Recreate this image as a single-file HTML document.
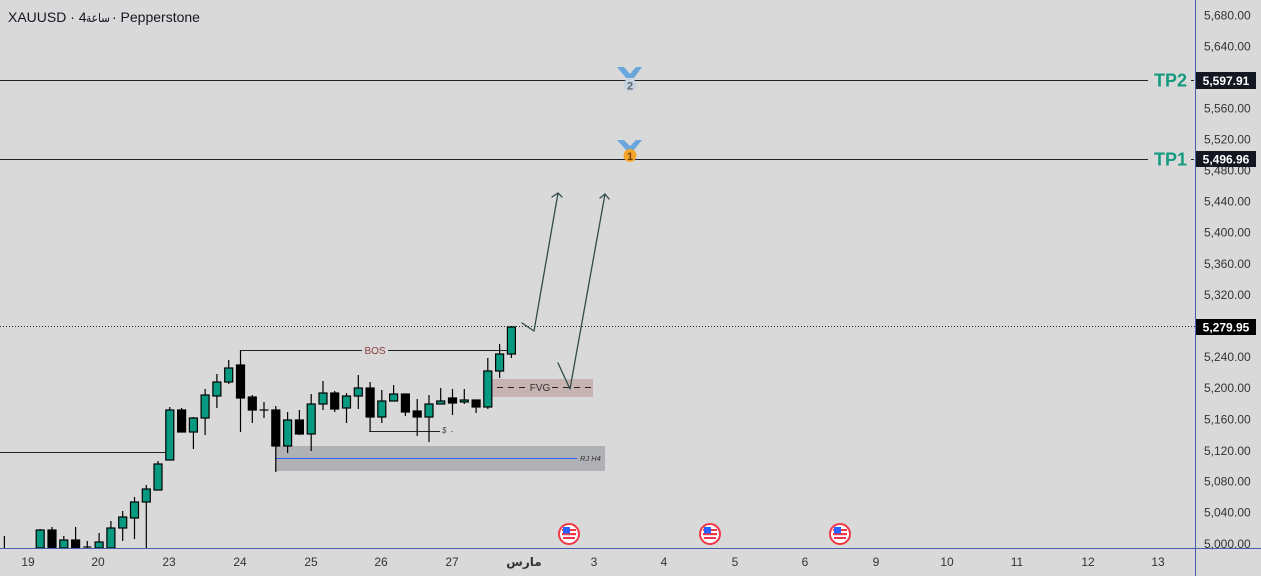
<!DOCTYPE html>
<html><head><meta charset="utf-8"><style>
html,body{margin:0;padding:0;background:#d9d9d9;}
svg{display:block;font-family:"Liberation Sans","Noto Sans CJK SC",sans-serif;}
</style></head><body>
<svg width="1261" height="576" viewBox="0 0 1261 576" xmlns="http://www.w3.org/2000/svg">
<rect x="0" y="0" width="1261" height="576" fill="#d9d9d9"/>
<text x="8" y="22" font-size="14" fill="#131722">XAUUSD · 4</text>
<text x="86" y="22" font-size="12" fill="#131722" textLength="24" lengthAdjust="spacingAndGlyphs" font-family="DejaVu Sans, sans-serif">ساعة</text>
<text x="112" y="22" font-size="14" fill="#131722">· Pepperstone</text>
<!-- TP lines -->
<line x1="0" y1="80.5" x2="1148" y2="80.5" stroke="#1e222d" stroke-width="1"/>
<line x1="0" y1="159.5" x2="1148" y2="159.5" stroke="#1e222d" stroke-width="1"/>
<text x="1154" y="86.5" font-size="18" font-weight="bold" fill="#159a80">TP2</text>
<text x="1154" y="165.5" font-size="18" font-weight="bold" fill="#159a80">TP1</text>
<line x1="1191" y1="80.5" x2="1194" y2="80.5" stroke="#1e222d"/>
<line x1="1191" y1="159.5" x2="1194" y2="159.5" stroke="#1e222d"/>
<!-- medals -->
<g>
<path d="M617 67 L624 67 L630 74 L636 67 L642 67 L634 78 L626 78 Z" fill="#6aa6dc"/>
<circle cx="630" cy="85" r="6.5" fill="#c5d1dc"/>
<text x="630" y="89.5" font-size="11" font-weight="bold" fill="#5a6878" text-anchor="middle">2</text>
<path d="M617 140 L624 140 L630 146 L636 140 L642 140 L634 150 L626 150 Z" fill="#6aa6dc"/>
<circle cx="630" cy="155.5" r="6.5" fill="#f5a52a"/>
<text x="630" y="160" font-size="11" font-weight="bold" fill="#7a4300" text-anchor="middle">1</text>
</g>
<!-- current price dotted line -->
<line x1="0" y1="326.5" x2="1195" y2="326.5" stroke="#1e222d" stroke-width="1" stroke-dasharray="1 2"/>
<!-- left horizontal -->
<line x1="0" y1="452.5" x2="166" y2="452.5" stroke="#1e222d" stroke-width="1"/>
<!-- gray zone -->
<rect x="275" y="446" width="330" height="25" fill="#b0b1b5"/>
<line x1="275" y1="458.5" x2="577" y2="458.5" stroke="#2962ff" stroke-width="1"/>
<text x="580" y="461" font-size="7.5" font-style="italic" fill="#333">RJ H4</text>
<!-- FVG -->
<rect x="492" y="379" width="101" height="18" fill="#c8b3b3"/>
<line x1="497" y1="387.5" x2="528" y2="387.5" stroke="#222" stroke-dasharray="6 5"/>
<line x1="552" y1="387.5" x2="593" y2="387.5" stroke="#222" stroke-dasharray="6 5"/>
<text x="540" y="391" font-size="10" fill="#333" text-anchor="middle">FVG</text>
<!-- BOS -->
<line x1="240" y1="350.5" x2="362" y2="350.5" stroke="#1e222d"/>
<line x1="388" y1="350.5" x2="507" y2="350.5" stroke="#1e222d"/>
<text x="375" y="354" font-size="10" fill="#8c3a3f" text-anchor="middle">BOS</text>
<!-- $ sweep -->
<line x1="369" y1="431.5" x2="440" y2="431.5" stroke="#1e222d"/>
<text x="442" y="433" font-size="8" font-style="italic" fill="#444">$</text>
<circle cx="452" cy="431.5" r="0.6" fill="#555"/>
<!-- candles -->
<g stroke="#000" stroke-width="1.2">
<line x1="4.4" y1="536" x2="4.4" y2="548"/>
<line x1="40.2" y1="529" x2="40.2" y2="548"/><rect x="36.2" y="530" width="8" height="18" fill="#089981"/>
<line x1="52" y1="527" x2="52" y2="548"/><rect x="48" y="530" width="8" height="18" fill="#000"/>
<line x1="63.8" y1="536" x2="63.8" y2="548"/><rect x="59.8" y="540" width="8" height="8" fill="#089981"/>
<line x1="75.6" y1="527" x2="75.6" y2="548"/><rect x="71.6" y="540" width="8" height="8" fill="#000"/>
<line x1="87.3" y1="541" x2="87.3" y2="548"/><line x1="83.3" y1="547" x2="91.3" y2="547"/>
<line x1="99.1" y1="533" x2="99.1" y2="548"/><rect x="95.1" y="542" width="8" height="6" fill="#089981"/>
<line x1="110.9" y1="521" x2="110.9" y2="548"/><rect x="106.9" y="528" width="8" height="20" fill="#089981"/>
<line x1="122.7" y1="511" x2="122.7" y2="541"/><rect x="118.7" y="517" width="8" height="11" fill="#089981"/>
<line x1="134.5" y1="497" x2="134.5" y2="539"/><rect x="130.5" y="502" width="8" height="16" fill="#089981"/>
<line x1="146.3" y1="485" x2="146.3" y2="548"/><rect x="142.3" y="489" width="8" height="13" fill="#089981"/>
<line x1="158" y1="461" x2="158" y2="490"/><rect x="154" y="464" width="8" height="26" fill="#089981"/>
<line x1="169.8" y1="407" x2="169.8" y2="460"/><rect x="165.8" y="410" width="8" height="50" fill="#089981"/>
<line x1="181.6" y1="408" x2="181.6" y2="432"/><rect x="177.6" y="410" width="8" height="22" fill="#000"/>
<line x1="193.4" y1="417" x2="193.4" y2="449"/><rect x="189.4" y="418" width="8" height="14" fill="#089981"/>
<line x1="205.1" y1="389" x2="205.1" y2="435"/><rect x="201.1" y="395" width="8" height="23" fill="#089981"/>
<line x1="216.9" y1="374" x2="216.9" y2="408"/><rect x="212.9" y="382" width="8" height="14" fill="#089981"/>
<line x1="228.7" y1="360" x2="228.7" y2="384"/><rect x="224.7" y="368" width="8" height="14" fill="#089981"/>
<line x1="240.5" y1="350" x2="240.5" y2="432"/><rect x="236.5" y="365" width="8" height="33" fill="#000"/>
<line x1="252.3" y1="395" x2="252.3" y2="423"/><rect x="248.3" y="397" width="8" height="13" fill="#000"/>
<line x1="264" y1="402" x2="264" y2="418"/><line x1="259.5" y1="410" x2="268.5" y2="410"/>
<line x1="275.8" y1="406" x2="275.8" y2="472"/><rect x="271.8" y="410" width="8" height="36" fill="#000"/>
<line x1="287.6" y1="412" x2="287.6" y2="453"/><rect x="283.6" y="420" width="8" height="26" fill="#089981"/>
<line x1="299.4" y1="410" x2="299.4" y2="435"/><rect x="295.4" y="420" width="8" height="14" fill="#000"/>
<line x1="311.2" y1="394" x2="311.2" y2="451"/><rect x="307.2" y="404" width="8" height="30" fill="#089981"/>
<line x1="323" y1="381" x2="323" y2="410"/><rect x="319" y="393" width="8" height="11" fill="#089981"/>
<line x1="334.7" y1="391" x2="334.7" y2="412"/><rect x="330.7" y="393" width="8" height="16" fill="#000"/>
<line x1="346.5" y1="393" x2="346.5" y2="423"/><rect x="342.5" y="396" width="8" height="12" fill="#089981"/>
<line x1="358.3" y1="375" x2="358.3" y2="409"/><rect x="354.3" y="388" width="8" height="8" fill="#089981"/>
<line x1="370.1" y1="382" x2="370.1" y2="431"/><rect x="366.1" y="388" width="8" height="29" fill="#000"/>
<line x1="381.8" y1="390" x2="381.8" y2="423"/><rect x="377.8" y="401" width="8" height="16" fill="#089981"/>
<line x1="393.6" y1="385" x2="393.6" y2="401"/><rect x="389.6" y="394" width="8" height="7" fill="#089981"/>
<line x1="405.4" y1="394" x2="405.4" y2="416"/><rect x="401.4" y="394" width="8" height="18" fill="#000"/>
<line x1="417.2" y1="399" x2="417.2" y2="436"/><rect x="413.2" y="411" width="8" height="6" fill="#000"/>
<line x1="429" y1="395" x2="429" y2="442"/><rect x="425" y="404" width="8" height="13" fill="#089981"/>
<line x1="440.7" y1="388" x2="440.7" y2="404"/><rect x="436.7" y="401" width="8" height="3" fill="#089981"/>
<line x1="452.5" y1="389" x2="452.5" y2="415"/><rect x="448.5" y="398" width="8" height="5" fill="#000"/>
<line x1="464.3" y1="389" x2="464.3" y2="404"/><rect x="460.3" y="400" width="8" height="2" fill="#089981"/>
<line x1="476.1" y1="400" x2="476.1" y2="413"/><rect x="472.1" y="400" width="8" height="7" fill="#000"/>
<line x1="487.8" y1="358" x2="487.8" y2="409"/><rect x="483.8" y="371" width="8" height="36" fill="#089981"/>
<line x1="499.6" y1="344" x2="499.6" y2="378"/><rect x="495.6" y="354" width="8" height="17" fill="#089981"/>
<line x1="511.4" y1="326" x2="511.4" y2="358"/><rect x="507.4" y="327" width="8" height="27" fill="#089981"/>
</g>
<!-- arrows -->
<g stroke="#2e4d4a" stroke-width="1.3" fill="none" stroke-linecap="round" stroke-linejoin="round">
<polyline points="522,323 534,331 558,193"/>
<polyline points="552,197 558,193 562,197"/>
<polyline points="558,363 570,389 605,194"/>
<polyline points="600,198 605,194 609,199"/>
</g>
<!-- US flag events -->
<g>
<defs>
<g id="flag">
<circle cx="0" cy="0" r="10" fill="#fff" stroke="#f23645" stroke-width="2"/>
<rect x="-7" y="-1" width="14" height="2.2" fill="#f23645"/>
<rect x="-6" y="3" width="12" height="2" fill="#f23645"/>
<rect x="-7" y="-5" width="14" height="2" fill="#f23645"/>
<rect x="-6" y="-7" width="7" height="6.5" fill="#2962ff"/>
</g>
</defs>
<use href="#flag" x="569" y="534"/>
<use href="#flag" x="710" y="534"/>
<use href="#flag" x="840" y="534"/>
</g>
<!-- axes -->
<line x1="1195.5" y1="0" x2="1195.5" y2="576" stroke="#4a5ea8" stroke-width="1"/>
<g font-size="12" fill="#333">
<text x="1204" y="19.5">5,680.00</text>
<text x="1204" y="50.5">5,640.00</text>
<text x="1204" y="112.5">5,560.00</text>
<text x="1204" y="143.5">5,520.00</text>
<text x="1204" y="174.5">5,480.00</text>
<text x="1204" y="205.5">5,440.00</text>
<text x="1204" y="236.5">5,400.00</text>
<text x="1204" y="268">5,360.00</text>
<text x="1204" y="299">5,320.00</text>
<text x="1204" y="361">5,240.00</text>
<text x="1204" y="392">5,200.00</text>
<text x="1204" y="423.5">5,160.00</text>
<text x="1204" y="455">5,120.00</text>
<text x="1204" y="485.5">5,080.00</text>
<text x="1204" y="516.5">5,040.00</text>
<text x="1204" y="548">5,000.00</text>
</g>
<line x1="0" y1="548.5" x2="1261" y2="548.5" stroke="#4a5ea8" stroke-width="1"/>
<!-- price labels -->
<rect x="1196" y="72" width="60" height="17" fill="#131722"/>
<text x="1226" y="85" font-size="12" font-weight="bold" fill="#fff" text-anchor="middle">5,597.91</text>
<rect x="1196" y="151" width="60" height="16" fill="#131722"/>
<text x="1226" y="163.5" font-size="12" font-weight="bold" fill="#fff" text-anchor="middle">5,496.96</text>
<rect x="1196" y="319" width="60" height="16" fill="#000"/>
<text x="1226" y="331.5" font-size="12" font-weight="bold" fill="#fff" text-anchor="middle">5,279.95</text>
<!-- time labels -->
<g font-size="12" fill="#333" text-anchor="middle">
<text x="28" y="566">19</text>
<text x="98" y="566">20</text>
<text x="169" y="566">23</text>
<text x="240" y="566">24</text>
<text x="311" y="566">25</text>
<text x="381" y="566">26</text>
<text x="452" y="566">27</text>
<text x="524" y="566" font-weight="bold" font-family="Liberation Sans, Noto Sans CJK SC, DejaVu Sans, sans-serif">مارس</text>
<text x="594" y="566">3</text>
<text x="664" y="566">4</text>
<text x="735" y="566">5</text>
<text x="805" y="566">6</text>
<text x="876" y="566">9</text>
<text x="947" y="566">10</text>
<text x="1017" y="566">11</text>
<text x="1088" y="566">12</text>
<text x="1158" y="566">13</text>
</g>
</svg>
</body></html>
